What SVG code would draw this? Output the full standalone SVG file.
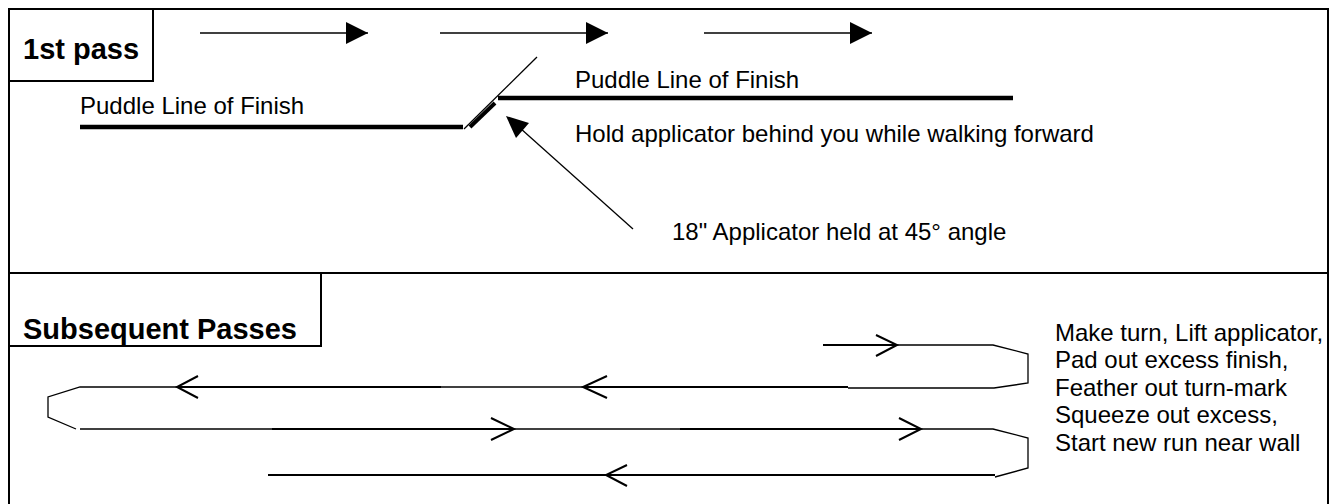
<svg xmlns="http://www.w3.org/2000/svg" width="1335" height="504" viewBox="0 0 1335 504">
<style>
text{font-family:"Liberation Sans",Arial,sans-serif;fill:#000}
.t{font-size:24px}
.h{font-size:29px;font-weight:bold}
.frame{fill:none;stroke:#000;stroke-width:2}
.thin{fill:none;stroke:#000;stroke-width:1.3}
.thick{fill:none;stroke:#000;stroke-width:2.2}
.puddle{fill:none;stroke:#000;stroke-width:4.5}
.chev{fill:none;stroke:#000;stroke-width:2}
</style>
<defs>
<marker id="tri" markerUnits="userSpaceOnUse" markerWidth="22" markerHeight="22" viewBox="0 0 20 20" refX="20" refY="10" orient="auto">
<path d="M0,0 L20,10 L0,20 Z" fill="#000"/>
</marker>
</defs>
<rect id="frame" class="frame" x="9" y="9" width="1319" height="510"/>
<line class="frame" x1="9" y1="273" x2="1328" y2="273"/>
<g id="label-1st-pass">
<rect class="frame" x="9" y="9" width="144" height="72"/>
<text class="h" x="23" y="59">1st pass</text>
</g>
<g id="label-subsequent">
<rect class="frame" x="9" y="273" width="312" height="73"/>
<text class="h" x="23" y="339">Subsequent Passes</text>
</g>
<g id="puddle-left">
<line class="puddle" x1="80" y1="127" x2="463" y2="127"/>
<text class="t" x="80" y="114">Puddle Line of Finish</text>
</g>
<g id="puddle-right">
<line class="puddle" x1="498" y1="98" x2="1013" y2="98"/>
<text class="t" x="575" y="88">Puddle Line of Finish</text>
<text class="t" x="575" y="142">Hold applicator behind you while walking forward</text>
</g>
<g id="applicator">
<line class="thin" x1="537" y1="57" x2="464" y2="129"/>
<line stroke="#000" stroke-width="4" x1="470" y1="127" x2="495" y2="103"/>
</g>
<g id="applicator-label">
<text class="t" x="672" y="240">18" Applicator held at 45° angle</text>
</g>
<g id="turn-note">
<text class="t" x="1055" y="341">Make turn, Lift applicator,</text>
<text class="t" x="1055" y="368">Pad out excess finish,</text>
<text class="t" x="1055" y="396">Feather out turn-mark</text>
<text class="t" x="1055" y="423">Squeeze out excess,</text>
<text class="t" x="1055" y="451">Start new run near wall</text>
</g>
<g id="connectors">
<line class="thin" x1="200" y1="33" x2="368" y2="33" marker-end="url(#tri)"/>
<line class="thin" x1="440" y1="33" x2="608" y2="33" marker-end="url(#tri)"/>
<line class="thin" x1="704" y1="33" x2="872" y2="33" marker-end="url(#tri)"/>
<line class="thin" x1="633" y1="229" x2="520" y2="128"/>
<path d="M506,116 L529,123 L516,138 Z" fill="#000"/>
<!-- row 0 -->
<line class="thick" x1="823" y1="345" x2="897" y2="345"/>
<polyline class="chev" points="876,335 897,345 876,356"/>
<polyline class="thin" points="897,345 993,345 1028,354 1028,383 994,388 848,388"/>
<!-- row 1 -->
<line class="thick" x1="848" y1="387" x2="583" y2="387"/>
<polyline class="chev" points="607,376 583,387 607,398"/>
<line class="thin" x1="583" y1="387" x2="441" y2="387"/>
<line class="thick" x1="441" y1="387" x2="177" y2="387"/>
<polyline class="chev" points="198,376 177,387 198,398"/>
<polyline class="thin" points="177,387 80,387 48,397 48,417 76,429"/>
<!-- row 2 -->
<line class="thin" x1="80" y1="429" x2="272" y2="429"/>
<line class="thick" x1="272" y1="429" x2="514" y2="429"/>
<polyline class="chev" points="491,418 514,429 491,440"/>
<line class="thin" x1="514" y1="429" x2="680" y2="429"/>
<line class="thick" x1="680" y1="429" x2="921" y2="429"/>
<polyline class="chev" points="899,418 921,429 899,440"/>
<polyline class="thin" points="921,429 993,429 1028,438 1028,468 995,477"/>
<!-- row 3 -->
<line class="thick" x1="995" y1="475" x2="268" y2="475"/>
<polyline class="chev" points="627,465 606,475 627,486"/>
</g>
</svg>
